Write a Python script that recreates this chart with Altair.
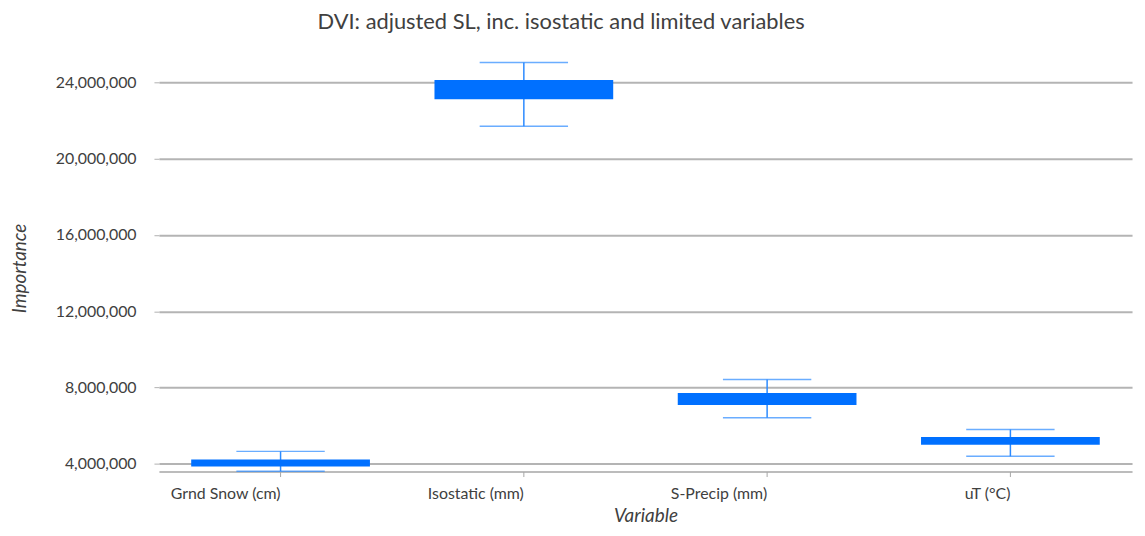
import altair as alt
import pandas as pd

variables = ["Grnd Snow (cm)", "Isostatic (mm)", "S-Precip (mm)", "uT (°C)"]
whisker_low = [3600000, 21710000, 6400000, 4380000]
box_low = [3840000, 23130000, 7070000, 4990000]
box_high = [4210000, 24140000, 7700000, 5390000]
whisker_high = [4640000, 25060000, 8410000, 5790000]
y_ticks = [4000000, 8000000, 12000000, 16000000, 20000000, 24000000]

df = pd.DataFrame({
    "Variable": variables,
    "wlo": whisker_low,
    "q1": box_low,
    "q3": box_high,
    "whi": whisker_high,
})

FONT = "Lato"
TXT = "#404040"
BLUE = "#0070ff"
WBLUE = "#2b8aff"

x = alt.X(
    "Variable:N",
    sort=variables,
    scale=alt.Scale(paddingInner=0, paddingOuter=0),
    axis=alt.Axis(
        title="Variable",
        titleFontStyle="italic",
        titleFontWeight="normal",
        titleFont=FONT,
        titleFontSize=19,
        titleColor=TXT,
        titleY=50,
        titleBaseline="alphabetic",
        labelAngle=0,
        labelFont=FONT,
        labelFontSize=16,
        labelColor=TXT,
        labelPadding=17,
        tickSize=5,
        tickColor="#a6a6a6",
        domainColor="#a6a6a6",
        domainWidth=1.5,
        grid=False,
    ),
)

yscale = alt.Scale(domain=[3580000, 26000000], nice=False, zero=False)

base = alt.Chart(df)

boxes = base.mark_bar(color=BLUE, size=180).encode(
    x=x,
    y=alt.Y(
        "q1:Q",
        scale=yscale,
        axis=alt.Axis(
            title="Importance",
            titleFontStyle="italic",
            titleFontWeight="normal",
            titleFont=FONT,
            titleFontSize=19,
            titleColor=TXT,
            titleAngle=-90,
            titleX=-140,
            titleY=225,
            titleAlign="center",
            titleBaseline="middle",
            values=y_ticks,
            format=",d",
            labelFont=FONT,
            labelFontSize=16,
            labelColor=TXT,
            labelPadding=18,
            tickSize=5,
            tickColor="#b0b0b0",
            domain=False,
            grid=True,
            gridColor="#b4b4b4",
            gridWidth=2,
        ),
    ),
    y2="q3:Q",
)

whisk = base.mark_rule(color=WBLUE, strokeWidth=1.5).encode(
    x=alt.X("Variable:N", sort=variables),
    y=alt.Y("wlo:Q", scale=yscale),
    y2="whi:Q",
)

cap_lo = base.mark_tick(color=WBLUE, size=89, thickness=1.5, orient="horizontal").encode(
    x=alt.X("Variable:N", sort=variables),
    y=alt.Y("wlo:Q", scale=yscale),
)
cap_hi = base.mark_tick(color=WBLUE, size=89, thickness=1.5, orient="horizontal").encode(
    x=alt.X("Variable:N", sort=variables),
    y=alt.Y("whi:Q", scale=yscale),
)

chart = alt.layer(whisk, cap_lo, cap_hi, boxes).properties(
    width=980,
    height=430,
    autosize=alt.AutoSizeParams(type="none"),
    padding={"left": 152, "top": 35, "right": 5, "bottom": 55},
    title=alt.TitleParams(
        "DVI: adjusted SL, inc. isostatic and limited variables",
        font=FONT,
        fontSize=22,
        fontWeight="normal",
        color=TXT,
        anchor="middle",
        dx=-85,
        dy=21,
        offset=15,
        baseline="alphabetic",
    ),
).configure_view(stroke=None)

chart.save("out.html", embed_options={"renderer": "svg", "actions": False})
